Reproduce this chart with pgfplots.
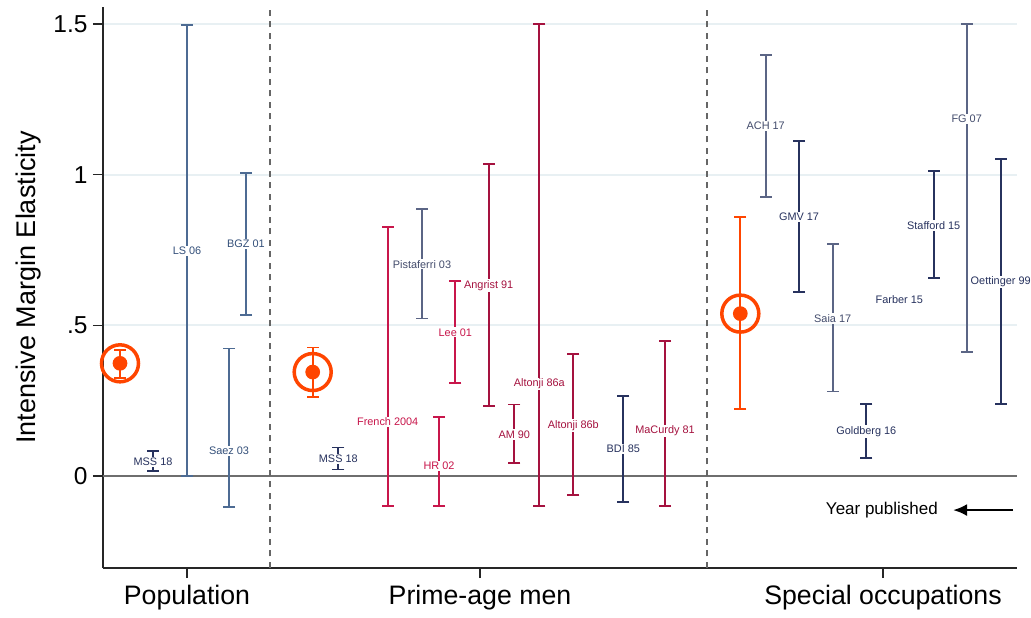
\documentclass[border=0pt]{standalone}
\usepackage{pgfplots}
\pgfplotsset{compat=1.18}
\usepackage{pgfplotstable}
\usepackage{fontspec}
\setmainfont{Liberation Sans}
\usetikzlibrary{arrows.meta}
\definecolor{navyD}{HTML}{27325E}
\definecolor{slate}{HTML}{4D6B93}
\definecolor{slateT}{HTML}{34507A}
\definecolor{grayN}{HTML}{5B6585}
\definecolor{grayT}{HTML}{434C6C}
\definecolor{crim}{HTML}{A5123F}
\definecolor{redL}{HTML}{C8164B}
\definecolor{orng}{HTML}{FF4500}
\definecolor{gridc}{HTML}{E8F0F3}
\definecolor{zeroc}{HTML}{6E6E6E}
\definecolor{dashc}{HTML}{666666}

% label tables: x position, label height, text
\pgfplotstableread{
x ly label
153 0.046 {MSS 18}
338.3 0.056 {MSS 18}
623.3 0.089 {BDI 85}
799 0.859 {GMV 17}
866.3 0.147 {Goldberg 16}
899.3 0.587 {Farber 15}
933.7 0.832 {Stafford 15}
1000.7 0.644 {Oettinger 99}
}\labNavy
\pgfplotstableread{
x ly label
187 0.747 {LS 06}
229 0.083 {Saez 03}
246 0.770 {BGZ 01}
}\labSlate
\pgfplotstableread{
x ly label
422 0.703 {Pistaferri 03}
765.7 1.162 {ACH 17}
832.7 0.523 {Saia 17}
966.7 1.185 {FG 07}
}\labGray
\pgfplotstableread{
x ly label
387.7 0.179 {French 2004}
439 0.033 {HR 02}
455.3 0.477 {Lee 01}
}\labRed
\pgfplotstableread{
x ly label
488.7 0.633 {Angrist 91}
514.3 0.138 {AM 90}
539.3 0.305 {Altonji 86a}
573.3 0.168 {Altonji 86b}
665 0.149 {MaCurdy 81}
}\labCrim

\begin{document}
\begin{tikzpicture}
\path[use as bounding box] (-103bp,-50bp) rectangle (928bp,568bp);
\begin{axis}[
  at={(0,0)}, anchor=south west,
  scale only axis, width=914bp, height=561bp,
  xmin=103, xmax=1017, ymin=-0.3053, ymax=1.5566,
  axis x line=bottom, axis y line=left,
  axis line style={-, line width=1.5bp, color=black!85},
  xtick={187,480,883},
  xticklabels={Population,Prime-age men,Special occupations},
  ytick={0,0.5,1,1.5}, yticklabels={0,.5,1,1.5},
  tick align=outside, major tick length=10bp,
  tick style={line width=1.5bp, black!85},
  xticklabel style={font=\fontsize{26.7bp}{30bp}\selectfont, yshift=-4bp},
  yticklabel style={font=\fontsize{24.5bp}{27bp}\selectfont, xshift=-2bp},
  /pgf/number format/assume math mode=true,
  ymajorgrids, grid style={line width=2bp, color=gridc},
  ylabel={Intensive Margin Elasticity},
  ylabel style={font=\fontsize{27bp}{30bp}\selectfont, at={(axis description cs:-0.0810,0.5)}, anchor=center},
  clip=false,
  every axis plot/.append style={line width=1.7bp},
  lbl/.style={draw=none, mark=none, nodes near coords, point meta=explicit symbolic,
    nodes near coords style={anchor=center, fill=white, inner sep=1.3bp,
      font=\fontsize{10.9bp}{12bp}\selectfont, text=#1}},
]
% zero line and separators
\addplot[zeroc, line width=2bp] coordinates {(103,0) (1017,0)};
\addplot[dashc, line width=2bp, dash pattern=on 6bp off 5.5bp] coordinates {(270,-0.3053) (270,1.5566)};
\addplot[dashc, line width=2bp, dash pattern=on 6bp off 5.5bp] coordinates {(707,-0.3053) (707,1.5566)};

% Population
\addplot[navyD, mark=-, mark size=6bp] coordinates {(153,0.017) (153,0.083)};
\addplot[slate, mark=-, mark size=6bp] coordinates {(187,0) (187,1.497)};
\addplot[slate, mark=-, mark size=6bp] coordinates {(229,-0.102) (229,0.423)};
\addplot[slate, mark=-, mark size=6bp] coordinates {(246,0.534) (246,1.006)};
% Prime-age men
\addplot[navyD, mark=-, mark size=6bp] coordinates {(338.3,0.022) (338.3,0.095)};
\addplot[redL, mark=-, mark size=6bp] coordinates {(387.7,-0.1) (387.7,0.827)};
\addplot[grayN, mark=-, mark size=6bp] coordinates {(422,0.523) (422,0.886)};
\addplot[redL, mark=-, mark size=6bp] coordinates {(439,-0.1) (439,0.195)};
\addplot[redL, mark=-, mark size=6bp] coordinates {(455.3,0.308) (455.3,0.648)};
\addplot[crim, mark=-, mark size=6bp] coordinates {(488.7,0.232) (488.7,1.035)};
\addplot[crim, mark=-, mark size=6bp] coordinates {(514.3,0.043) (514.3,0.237)};
\addplot[crim, mark=-, mark size=6bp] coordinates {(539.3,-0.1) (539.3,1.5)};
\addplot[crim, mark=-, mark size=6bp] coordinates {(573.3,-0.062) (573.3,0.405)};
\addplot[navyD, mark=-, mark size=6bp] coordinates {(623.3,-0.087) (623.3,0.266)};
\addplot[crim, mark=-, mark size=6bp] coordinates {(665,-0.1) (665,0.449)};
% Special occupations
\addplot[grayN, mark=-, mark size=6bp] coordinates {(765.7,0.926) (765.7,1.397)};
\addplot[navyD, mark=-, mark size=6bp] coordinates {(799,0.611) (799,1.113)};
\addplot[grayN, mark=-, mark size=6bp] coordinates {(832.7,0.280) (832.7,0.771)};
\addplot[navyD, mark=-, mark size=6bp] coordinates {(866.3,0.059) (866.3,0.239)};
\addplot[navyD, mark=-, mark size=6bp] coordinates {(933.7,0.657) (933.7,1.013)};
\addplot[grayN, mark=-, mark size=6bp] coordinates {(966.7,0.412) (966.7,1.501)};
\addplot[navyD, mark=-, mark size=6bp] coordinates {(1000.7,0.240) (1000.7,1.051)};

% pooled estimates (orange)
\addplot[orng, mark=-, mark size=6bp] coordinates {(120,0.326) (120,0.418)};
\addplot[orng, mark=-, mark size=6bp] coordinates {(312.7,0.263) (312.7,0.427)};
\addplot[orng, mark=-, mark size=6bp] coordinates {(740.3,0.222) (740.3,0.859)};
\addplot[only marks, mark=*, mark size=6.5bp, color=orng] coordinates {(120,0.374) (312.7,0.345) (740.3,0.539)};
\addplot[only marks, mark=o, mark size=18.5bp, color=orng, mark options={line width=3.5bp}] coordinates {(120,0.374) (312.7,0.345) (740.3,0.539)};

% labels
\addplot[lbl=navyD] table[x=x, y=ly, meta=label] {\labNavy};
\addplot[lbl=slateT] table[x=x, y=ly, meta=label] {\labSlate};
\addplot[lbl=grayT] table[x=x, y=ly, meta=label] {\labGray};
\addplot[lbl=redL] table[x=x, y=ly, meta=label] {\labRed};
\addplot[lbl=crim] table[x=x, y=ly, meta=label] {\labCrim};

% Year published annotation
\node[anchor=east, inner sep=0pt, font=\fontsize{17bp}{19bp}\selectfont] at (axis cs:938,-0.113) {Year published};
\draw[line width=2.5bp, -{Latex[length=14bp,width=12bp]}] (axis cs:1013,-0.113) -- (axis cs:953,-0.113);
\end{axis}
\end{tikzpicture}
\end{document}
